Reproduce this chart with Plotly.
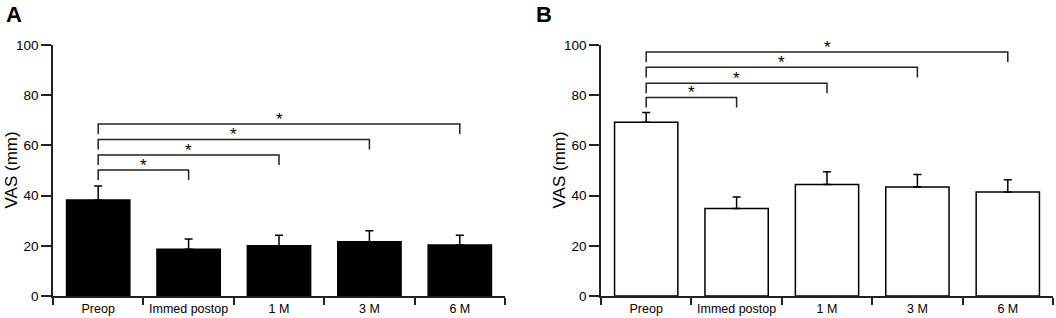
import plotly.graph_objects as go

categories = ["Preop", "Immed postop", "1 M", "3 M", "6 M"]
a_mean = [38.2, 18.6, 20.0, 21.6, 20.3]
a_err = [5.6, 4.1, 4.2, 4.4, 3.9]
b_mean = [69.2, 34.9, 44.4, 43.4, 41.4]
b_err = [3.9, 4.5, 5.1, 5.0, 4.9]
bracket_targets = [1, 2, 3, 4]
a_bracket_levels = [50.2, 56.2, 62.4, 68.5]
b_bracket_levels = [79.1, 84.8, 91.1, 97.2]
y_ticks = [0, 20, 40, 60, 80, 100]

W, H = 1056, 318
FONT = "Liberation Sans, Arial, Helvetica, sans-serif"
DROP = 4


def fx(px):
    return px / W


fig = go.Figure()

panels = [
    dict(mean=a_mean, err=a_err, levels=a_bracket_levels, fill="black", xa="x", ya="y",
         dom=[fx(53), fx(505)], label="A", label_x=4, title_x=11),
    dict(mean=b_mean, err=b_err, levels=b_bracket_levels, fill="white", xa="x2", ya="y2",
         dom=[fx(601), fx(1053)], label="B", label_x=534, title_x=559),
]

annotations = []
for p in panels:
    fig.add_trace(go.Bar(
        x=categories, y=p["mean"], xaxis=p["xa"], yaxis=p["ya"], width=0.7,
        marker=dict(color=p["fill"], line=dict(color="black", width=1.5)),
        error_y=dict(type="data", array=p["err"], arrayminus=[0] * len(p["err"]),
                     symmetric=False, color="black", thickness=1.5, width=4),
        showlegend=False, hoverinfo="skip",
    ))
    for tgt, lvl in zip(bracket_targets, p["levels"]):
        fig.add_trace(go.Scatter(
            x=[categories[0], categories[0], categories[tgt], categories[tgt]],
            y=[lvl - DROP, lvl, lvl, lvl - DROP],
            mode="lines", line=dict(color="#222", width=1.5),
            xaxis=p["xa"], yaxis=p["ya"], showlegend=False, hoverinfo="skip",
        ))
        annotations.append(dict(
            x=tgt / 2, y=lvl, xref=p["xa"], yref=p["ya"], text="*", showarrow=False,
            yanchor="bottom", yshift=-7, font=dict(family=FONT, size=17, color="black"),
        ))
    annotations.append(dict(
        x=fx(p["label_x"]), y=1, xref="paper", yref="paper", yanchor="top", xanchor="left",
        text="<b>%s</b>" % p["label"], showarrow=False, yshift=45,
        font=dict(family=FONT, size=22, color="black"),
    ))
    annotations.append(dict(
        x=fx(p["title_x"]), y=0.5, xref="paper", yref="paper", text="VAS (mm)",
        xanchor="center", yanchor="middle",
        textangle=-90, showarrow=False, font=dict(family=FONT, size=17, color="black"),
    ))

xaxis_common = dict(
    type="category", range=[-0.5, 4.5], showline=True, linecolor="#222", linewidth=1.5,
    ticks="outside", tickson="boundaries", ticklen=7, tickwidth=1.5, tickcolor="#222",
    showgrid=False, zeroline=False, tickfont=dict(family=FONT, size=12.5, color="black"),
    automargin=False, fixedrange=True,
)
yaxis_common = dict(
    range=[0, 100], tickvals=y_ticks, showline=True, linecolor="#222", linewidth=1.5,
    ticks="outside", ticklen=10, tickwidth=1.5, tickcolor="#222", showgrid=False,
    zeroline=False, tickfont=dict(family=FONT, size=13.5, color="black"), automargin=False,
    fixedrange=True,
)

fig.update_layout(
    width=W, height=H, margin=dict(l=0, r=0, t=45, b=H - 296),
    paper_bgcolor="white", plot_bgcolor="white", bargap=0.3,
    xaxis=dict(domain=panels[0]["dom"], anchor="y", **xaxis_common),
    yaxis=dict(domain=[0, 1], anchor="x", **yaxis_common),
    xaxis2=dict(domain=panels[1]["dom"], anchor="y2", **xaxis_common),
    yaxis2=dict(domain=[0, 1], anchor="x2", **yaxis_common),
    annotations=annotations,
    font=dict(family=FONT, color="black"),
)

fig.write_html("out.html", config={"displayModeBar": False},
               post_script="document.body.style.margin='0';")
